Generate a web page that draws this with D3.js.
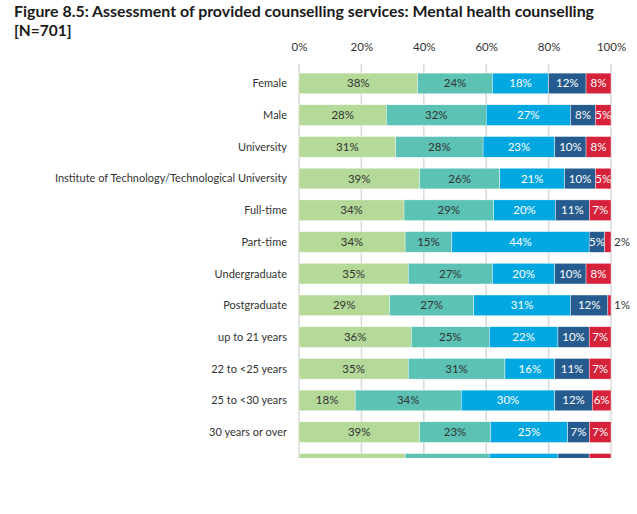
<!DOCTYPE html>
<html>
<head>
<meta charset="utf-8">
<script src="https://cdn.jsdelivr.net/npm/d3@7"></script>
<style>
  body { margin: 0; background: #fff; }
  text { font-family: Lato, "Open Sans", sans-serif; }
</style>
</head>
<body>
<script>
// Row labels (top to bottom); last row is cut off by the page edge
const categories = ["Female", "Male", "University",
  "Institute of Technology/Technological University",
  "Full-time", "Part-time", "Undergraduate", "Postgraduate",
  "up to 21 years", "22 to <25 years", "25 to <30 years", "30 years or over", "Irish"];

// Percentages per rating level (same order as categories)
const level1 = [38, 28, 31, 39, 34, 34, 35, 29, 36, 35, 18, 39, 34];
const level2 = [24, 32, 28, 26, 29, 15, 27, 27, 25, 31, 34, 23, 27];
const level3 = [18, 27, 23, 21, 20, 44, 20, 31, 22, 16, 30, 25, 22];
const level4 = [12, 8, 10, 10, 11, 5, 10, 12, 10, 11, 12, 7, 10];
const level5 = [8, 5, 8, 5, 7, 2, 8, 1, 7, 7, 6, 7, 7];

const ticks = [0, 20, 40, 60, 80, 100];
const colors = ["#b4d998", "#5cc2b4", "#00a7e1", "#255b8e", "#d6213b"];
const textColors = ["#333", "#333", "#fff", "#fff", "#fff"];

const width = 637, height = 514;
const margin = {left: 299, right: 26, top: 67.6};
const step = 31.7;

const svg = d3.select("body").append("svg")
    .attr("width", width)
    .attr("height", height);

// Title
const title = svg.append("g")
    .attr("font-weight", "bold")
    .attr("font-size", 15.5)
    .attr("fill", "#1a1a1a");
title.append("text")
    .attr("x", 14).attr("y", 17)
    .attr("textLength", 580)
    .attr("lengthAdjust", "spacingAndGlyphs")
    .text("Figure 8.5: Assessment of provided counselling services: Mental health counselling");
title.append("text")
    .attr("x", 14).attr("y", 36)
    .text("[N=701]");

// Scales
const x = d3.scaleLinear().domain([0, 100]).range([margin.left, width - margin.right]);
const y = d3.scaleBand()
    .domain(categories)
    .range([margin.top, margin.top + step * categories.length])
    .paddingInner(0.347)
    .paddingOuter(0.1735);

// Build rows -> stacked (normalised so each bar fills 100%)
const rows = categories.map((c, i) => {
    const vals = [level1[i], level2[i], level3[i], level4[i], level5[i]];
    const total = d3.sum(vals);
    let acc = 0;
    const segs = vals.map((v, k) => {
        const s = {cat: c, k: k, v: v, x0: acc / total * 100, x1: (acc + v) / total * 100};
        acc += v;
        return s;
    });
    return {cat: c, segs: segs};
});

// Clip everything at the page's cut line
svg.append("clipPath").attr("id", "cut")
  .append("rect").attr("x", 0).attr("y", 0).attr("width", width).attr("height", 458);

const chart = svg.append("g").attr("clip-path", "url(#cut)");

// Axis tick labels on top
const axis = svg.append("g")
    .attr("transform", `translate(0, 54)`)
    .call(d3.axisTop(x).tickValues(ticks).tickFormat(d => d + "%").tickSize(0));
axis.select(".domain").remove();
axis.selectAll("text")
    .attr("font-size", 11.5)
    .attr("fill", "#333")
    .attr("dy", 0);

// Gridlines
chart.append("g")
    .selectAll("line")
    .data(ticks)
    .join("line")
    .attr("x1", d => x(d)).attr("x2", d => x(d))
    .attr("y1", 64).attr("y2", 470)
    .attr("stroke", "#d9d9d9")
    .attr("stroke-width", 1.5);

// Category labels
chart.append("g")
    .selectAll("text")
    .data(categories)
    .join("text")
    .attr("x", 287)
    .attr("y", d => y(d) + y.bandwidth() / 2)
    .attr("dy", "0.35em")
    .attr("text-anchor", "end")
    .attr("font-size", 11)
    .attr("fill", "#333")
    .text(d => d);

// Bars
const rowG = chart.append("g")
    .selectAll("g")
    .data(rows)
    .join("g")
    .attr("transform", d => `translate(0, ${y(d.cat)})`);

rowG.selectAll("rect")
    .data(d => d.segs)
    .join("rect")
    .attr("x", d => x(d.x0))
    .attr("width", d => x(d.x1) - x(d.x0))
    .attr("height", y.bandwidth())
    .attr("fill", d => colors[d.k])
    .attr("stroke", "#fff")
    .attr("stroke-width", 0.4);

rowG.selectAll("text")
    .data(d => d.segs)
    .join("text")
    .attr("x", d => d.v < 4 ? x(100) + 3 : (x(d.x0) + x(d.x1)) / 2)
    .attr("y", y.bandwidth() / 2)
    .attr("dy", "0.35em")
    .attr("text-anchor", d => d.v < 4 ? "start" : "middle")
    .attr("font-size", 11.5)
    .attr("fill", d => d.v < 4 ? "#333" : textColors[d.k])
    .text(d => d.v + "%");
</script>
</body>
</html>
